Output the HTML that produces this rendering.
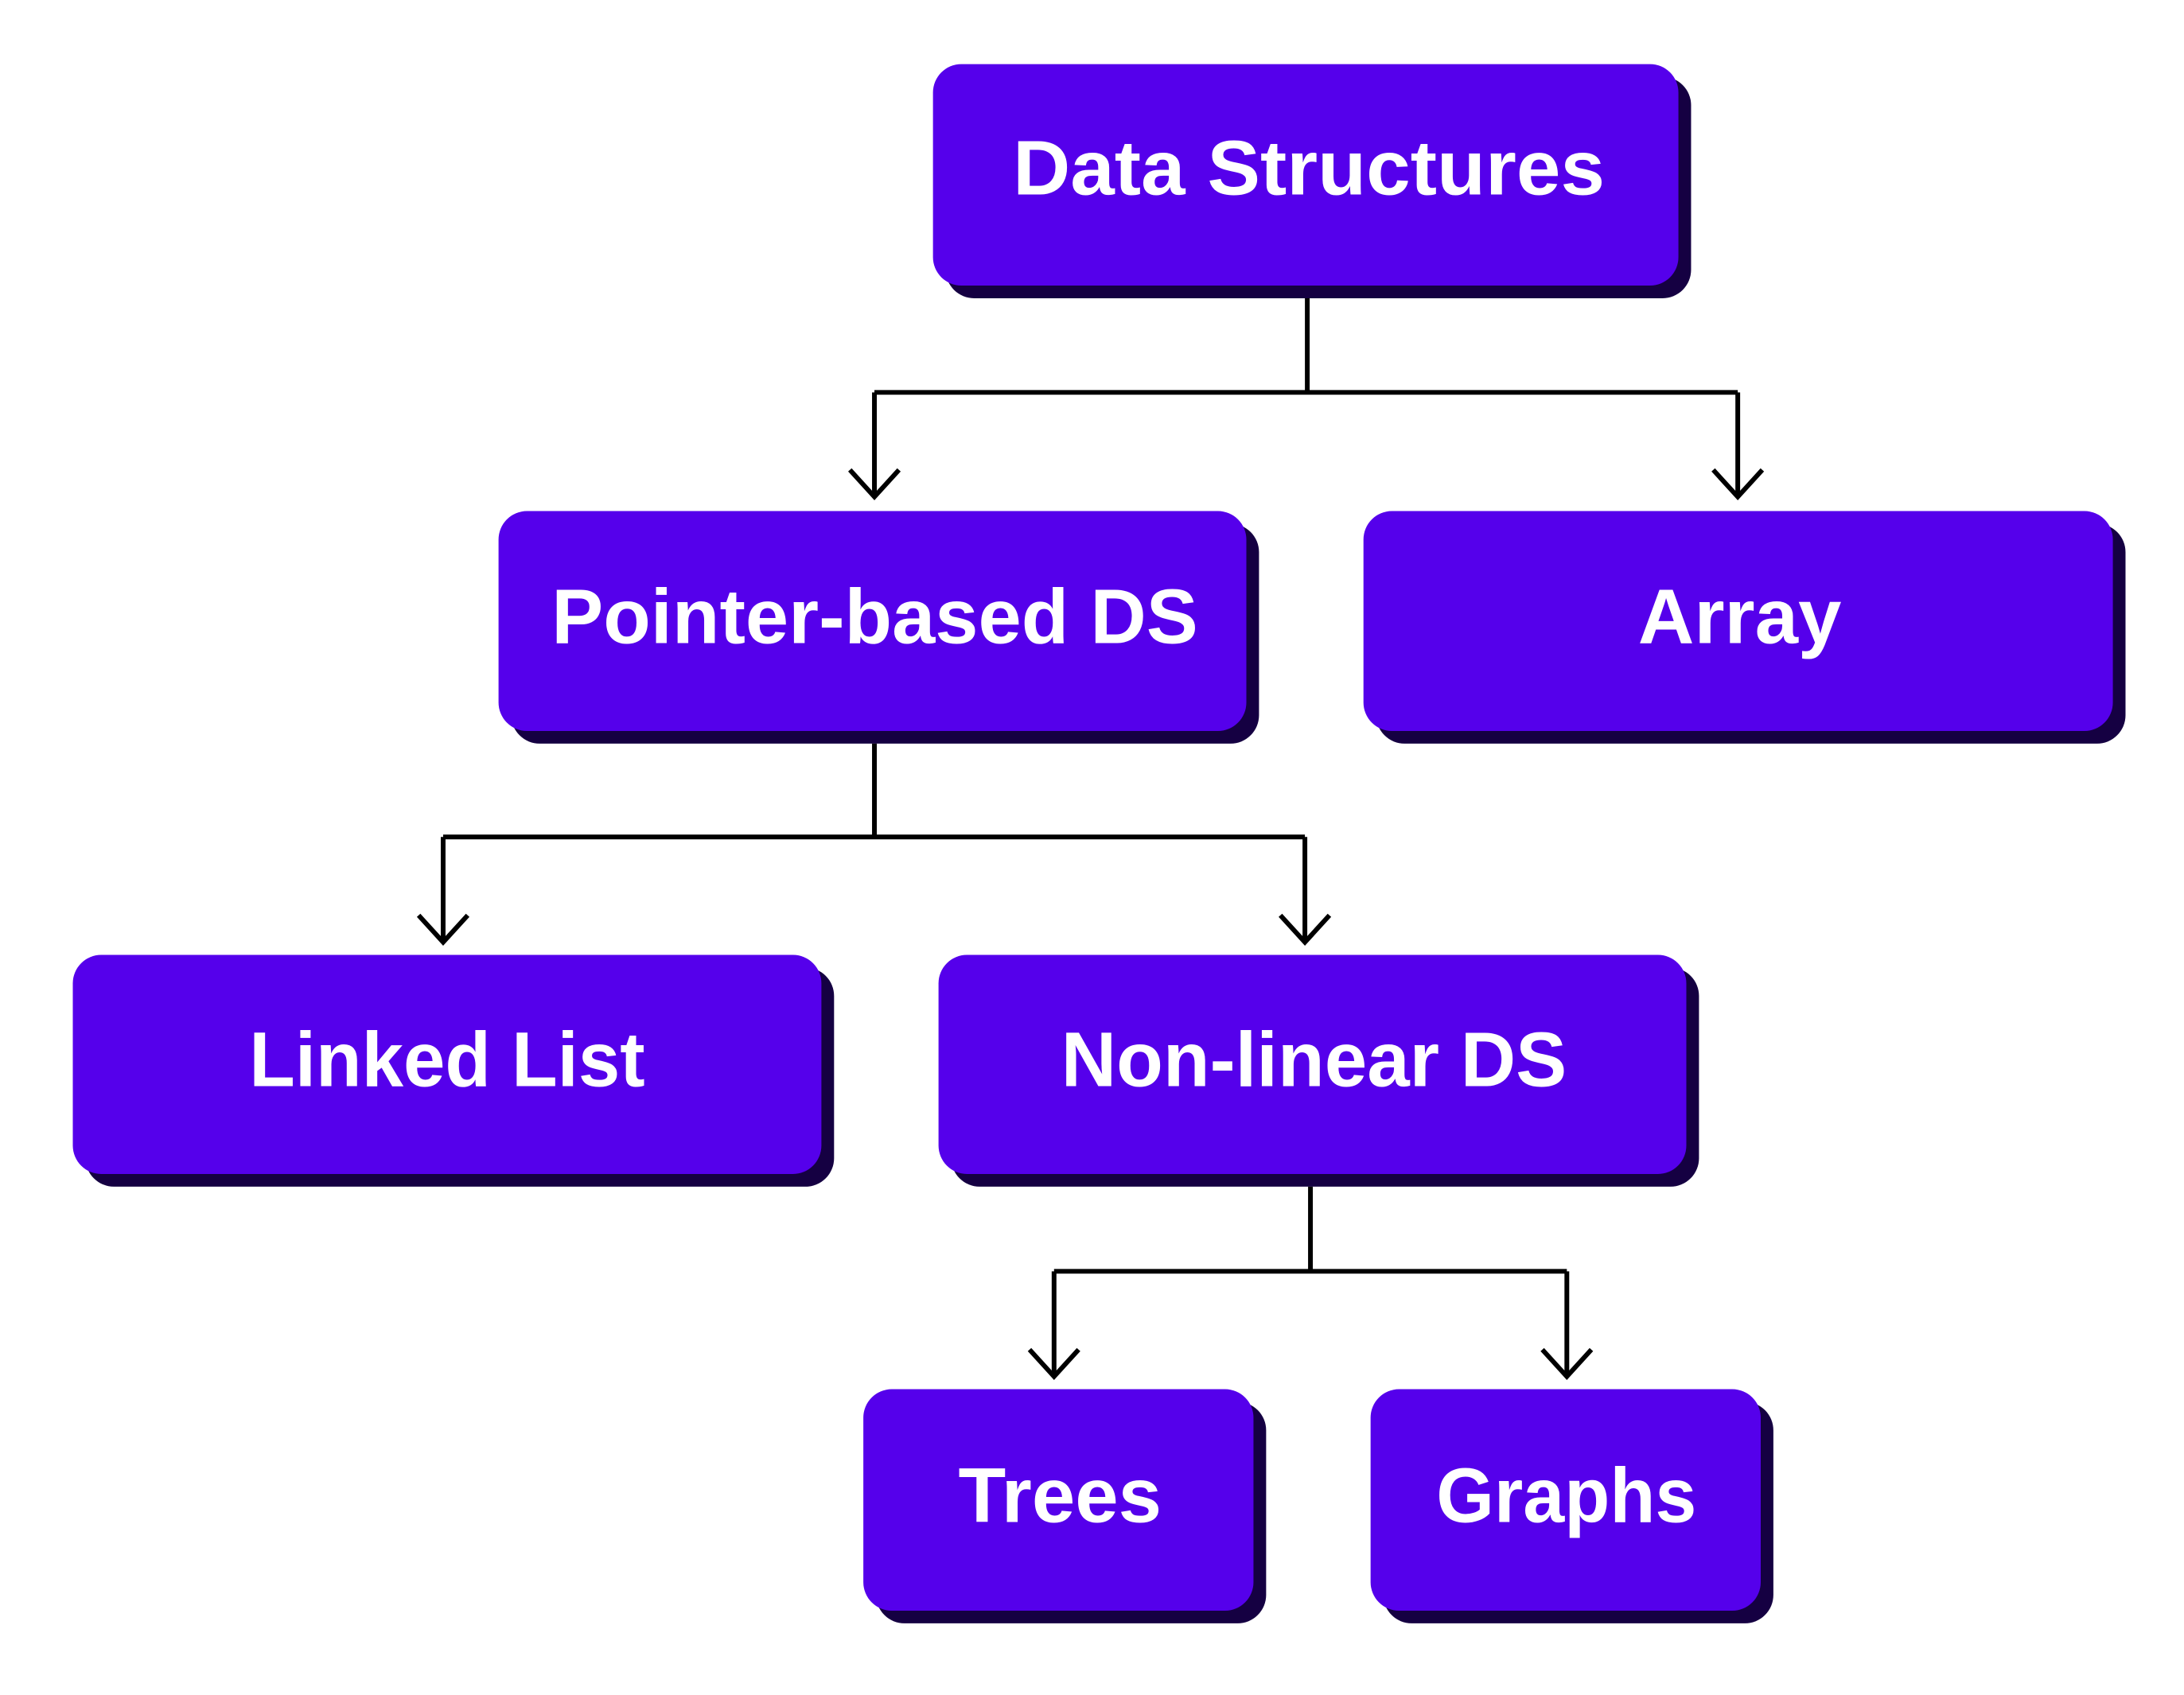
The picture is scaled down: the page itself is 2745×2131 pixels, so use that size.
<!DOCTYPE html>
<html><head><meta charset="utf-8"><style>html,body{margin:0;padding:0;background:#fff}svg{display:block}</style></head>
<body>
<svg width="2745" height="2131" viewBox="0 0 2745 2131" xmlns="http://www.w3.org/2000/svg">
<g transform="scale(0.9946)">
<g fill="#150042">
<rect x="1195" y="97" width="942" height="280" rx="36"/>
<rect x="646" y="662" width="945" height="278" rx="36"/>
<rect x="1739" y="662" width="947" height="278" rx="36"/>
<rect x="108" y="1223" width="946" height="277" rx="36"/>
<rect x="1202" y="1223" width="945" height="277" rx="36"/>
<rect x="1107" y="1772" width="493" height="280" rx="36"/>
<rect x="1748" y="1772" width="493" height="280" rx="36"/>
</g>
<g fill="#5500EB">
<rect x="1179" y="81" width="942" height="280" rx="36"/>
<rect x="630" y="646" width="945" height="278" rx="36"/>
<rect x="1723" y="646" width="947" height="278" rx="36"/>
<rect x="92" y="1207" width="946" height="277" rx="36"/>
<rect x="1186" y="1207" width="945" height="277" rx="36"/>
<rect x="1091" y="1756" width="493" height="280" rx="36"/>
<rect x="1732" y="1756" width="493" height="280" rx="36"/>
</g>
<g stroke="#000" stroke-width="6" fill="none" stroke-linejoin="miter">
<path d="M1652 377V496M1105 496H2196M1105 496V628M2196 496V628"/>
<path d="M1074 594L1105 628L1136 594M2165 594L2196 628L2227 594"/>
<path d="M1105 940V1058M560 1058H1649M560 1058V1191M1649 1058V1191"/>
<path d="M529 1157L560 1191L591 1157M1618 1157L1649 1191L1680 1157"/>
<path d="M1656 1500V1607M1332 1607H1980M1332 1607V1740M1980 1607V1740"/>
<path d="M1301 1706L1332 1740L1363 1706M1949 1706L1980 1740L2011 1706"/>
</g>
<g fill="#fff" font-family="Liberation Sans, sans-serif" font-weight="bold" font-size="98">
<text x="1280" y="246" textLength="748" lengthAdjust="spacingAndGlyphs">Data Structures</text>
<text x="697" y="813" textLength="817" lengthAdjust="spacingAndGlyphs">Pointer-based DS</text>
<text x="2070" y="813" textLength="257" lengthAdjust="spacingAndGlyphs">Array</text>
<text x="315" y="1373" textLength="500" lengthAdjust="spacingAndGlyphs">Linked List</text>
<text x="1341" y="1373" textLength="639" lengthAdjust="spacingAndGlyphs">Non-linear DS</text>
<text x="1211" y="1924" textLength="257" lengthAdjust="spacingAndGlyphs">Trees</text>
<text x="1815" y="1924" textLength="329" lengthAdjust="spacingAndGlyphs">Graphs</text>
</g>
</g>
</svg>
</body></html>
